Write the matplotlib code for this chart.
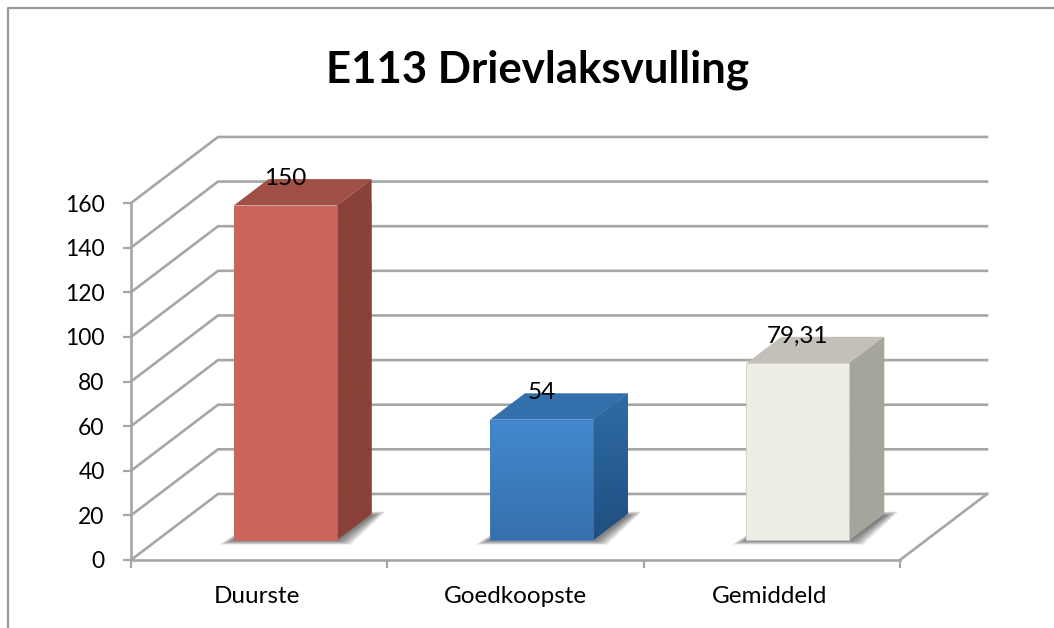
import numpy as np
import matplotlib
matplotlib.use('Agg')
from matplotlib import pyplot as plt
from matplotlib.patches import Polygon

title = 'E113 Drievlaksvulling'
categories = ['Duurste', 'Goedkoopste', 'Gemiddeld']
values = [150, 54, 79.31]
value_labels = ['150', '54', '79,31']
y_ticks = [0, 20, 40, 60, 80, 100, 120, 140, 160]

front_top = ['#c9655b', '#4289cf', '#eeeee7']
front_bottom = ['#c9655b', '#3670ac', '#eeeee7']
top_colors = ['#a04f46', '#3370ab', '#c3c0ba']
side_top = ['#8a4139', '#2f6ca6', '#a5a59c']
side_bottom = ['#8a4139', '#1f4f80', '#a5a59c']
edges = ['#c9655b', '#3f7fc0', '#c8c8c4']

GRID = '#a6a6a6'

plt.rcParams['font.family'] = ['Lato', 'DejaVu Sans']

fig = plt.figure(figsize=(10.54, 6.28), dpi=100)
ax = fig.add_axes([131 / 1054, 68 / 628, 769 / 1054, 357 / 628])
ax.set_xlim(0, 3)
ax.set_ylim(0, 160)

# depth of the fake 3d box, in data units
dx = 87 / 256.3
dy = 66 / 2.23
# bars sit between these fractions of the depth
d1 = 0.30
d2 = 0.70
bar_w = 0.402


def gradient(verts, c1, c2, z):
    # vertical gradient clipped to a polygon
    xs = [v[0] for v in verts]
    ys = [v[1] for v in verts]
    col1 = np.array(matplotlib.colors.to_rgb(c1))
    col2 = np.array(matplotlib.colors.to_rgb(c2))
    t = np.linspace(0, 1, 64)[:, None]
    img = (col1 * (1 - t) + col2 * t)[:, None, :]
    im = ax.imshow(img, extent=(min(xs), max(xs), min(ys), max(ys)), origin='upper',
                   aspect='auto', zorder=z, clip_on=True)
    p = Polygon(verts, closed=True, transform=ax.transData, fill=False, lw=0)
    im.set_clip_path(p)


# back wall and floor lines
for t in y_ticks:
    ax.plot([0, dx, 3 + dx], [t, t + dy, t + dy], color=GRID, lw=1.9, clip_on=False, zorder=1,
            solid_joinstyle='miter')
ax.plot([3, 3 + dx], [0, dy], color=GRID, lw=1.9, clip_on=False, zorder=1)

x_pos = np.arange(3) + 0.5 + d1 * dx
base = d1 * dy
depth_x = (d2 - d1) * dx
depth_y = (d2 - d1) * dy

for i in range(3):
    x0 = x_pos[i] - bar_w / 2
    x1 = x_pos[i] + bar_w / 2
    y1 = base + values[i]

    # soft shadow on the floor, stacked from wide and faint to narrow
    for k in range(10):
        g = (10 - k) * 0.0055
        h = (10 - k) * 0.2
        ax.add_patch(Polygon([(x0 - g, base - h), (x1 + g, base - h),
                              (x1 + depth_x + g, base + depth_y - 1 + h),
                              (x0 + depth_x, base + depth_y - 1 + h)],
                             closed=True, fc='#303030', ec='none', alpha=0.085, zorder=2))

    ax.bar(x_pos[i], values[i], bottom=base, width=bar_w, color=front_top[i],
           edgecolor=edges[i], linewidth=0.5, zorder=4.2)
    if i == 1:
        ax.patches[-1].set_facecolor('none')
    gradient([(x0, base), (x1, base), (x1, y1), (x0, y1)], front_top[i], front_bottom[i], 4.1)

    top = [(x0, y1), (x1, y1), (x1 + depth_x, y1 + depth_y), (x0 + depth_x, y1 + depth_y)]
    ax.add_patch(Polygon(top, closed=True, fc=top_colors[i], ec='none', zorder=3.9, clip_on=False))

    side = [(x1, base), (x1 + depth_x, base + depth_y), (x1 + depth_x, y1 + depth_y), (x1, y1)]
    ax.add_patch(Polygon(side, closed=True, fc=side_top[i], ec='none', zorder=3.9, clip_on=False))
    gradient(side, side_top[i], side_bottom[i], 3.95)

    ax.annotate(value_labels[i], (x_pos[i], y1), xytext=(0, 19.5), textcoords='offset points',
                ha='center', va='center', fontsize=17.5, color='black', zorder=6,
                annotation_clip=False)

ax.set_xlim(0, 3)
ax.set_ylim(0, 160)
ax.set_facecolor('none')

for s in ['top', 'right']:
    ax.spines[s].set_visible(False)
for s in ['left', 'bottom']:
    ax.spines[s].set_color(GRID)
    ax.spines[s].set_linewidth(1.9)
    ax.spines[s].set_zorder(3)

ax.set_yticks(y_ticks)
ax.set_xticks([0, 1, 2, 3])
ax.set_xticklabels([])
ax.set_xticks([0.49, 1.5, 2.49], minor=True)
ax.set_xticklabels(categories, minor=True)
ax.tick_params(axis='x', which='major', length=6, width=1.6, color=GRID)
ax.tick_params(axis='x', which='minor', length=0, labelsize=17.5, pad=19)
ax.tick_params(axis='y', length=6, width=1.6, color=GRID, labelsize=16.5, pad=13)

fig.text(537.5 / 1054, 1 - 70 / 628, title, ha='center', va='center', fontsize=31.5, fontweight='bold')

# chart area border, cropped on the right and bottom
fig.add_artist(plt.Line2D([8 / 1054, 8 / 1054, 1], [0, 1 - 8 / 628, 1 - 8 / 628], color='#9a9a9a', lw=1.6))

fig.savefig('out.png', dpi=100)
